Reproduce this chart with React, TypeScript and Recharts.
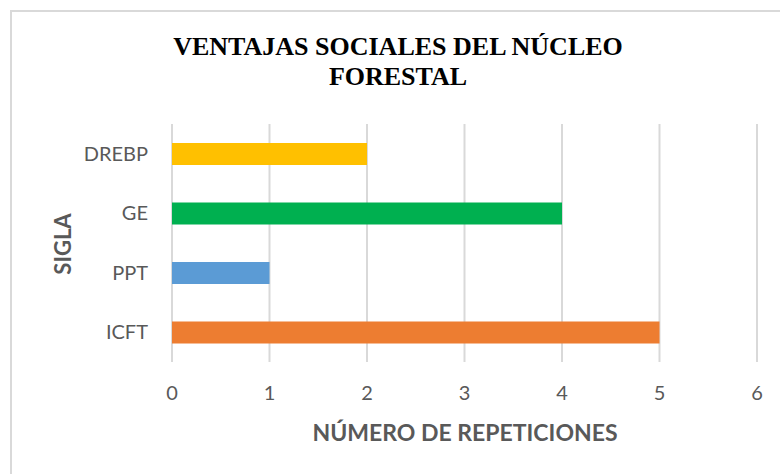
import { BarChart, Bar, XAxis, YAxis, CartesianGrid, Cell } from 'recharts'

const siglas = ['DREBP', 'GE', 'PPT', 'ICFT']
const repeticiones = [2, 4, 1, 5]
const barColors = ['#FFC000', '#00B050', '#5B9BD5', '#ED7D31']
const xTicks = [0, 1, 2, 3, 4, 5, 6]

const titleLines = ['VENTAJAS SOCIALES DEL NÚCLEO', 'FORESTAL']
const xTitle = 'NÚMERO DE REPETICIONES'
const yTitle = 'SIGLA'

const data = siglas.map((s, i) => ({ sigla: s, value: repeticiones[i] }))

const W = 780
const H = 474
const labelFont = 'Lato, "Noto Sans", sans-serif'
const gray = '#595959'

export default function App(): React.JSX.Element {
  return (
    <div
      style={{
        position: 'absolute',
        left: 0,
        top: 0,
        width: W,
        height: H,
        overflow: 'hidden',
        background: '#fff'
      }}
    >
      {/* outer chart frame, only top/left edges are in view */}
      <div
        style={{
          position: 'absolute',
          left: 10,
          top: 10,
          width: 820,
          height: 520,
          border: '2px solid #d9d9d9',
          boxSizing: 'border-box'
        }}
      />
      <div style={{ position: 'absolute', left: 0, top: 0 }}>
        <BarChart
          width={W}
          height={H}
          data={data}
          layout="vertical"
          margin={{ top: 124, right: 23, bottom: 0, left: 0 }}
        >
          <CartesianGrid horizontal={false} stroke="#d9d9d9" strokeWidth={2} />
          <XAxis
            type="number"
            domain={[0, 6]}
            ticks={xTicks}
            height={112}
            axisLine={false}
            tickLine={false}
            tickMargin={18}
            tick={{ fill: gray, fontSize: 20, fontFamily: labelFont }}
          />
          <YAxis
            type="category"
            dataKey="sigla"
            width={172}
            axisLine={false}
            tickLine={false}
            tickMargin={18}
            tick={{ fill: gray, fontSize: 20, fontFamily: labelFont }}
          />
          <Bar dataKey="value" barSize={22} isAnimationActive={false}>
            {data.map((d, i) => (
              <Cell key={d.sigla} fill={barColors[i]} />
            ))}
          </Bar>
        </BarChart>
      </div>
      <svg
        width={W}
        height={H}
        style={{ position: 'absolute', left: 0, top: 0, pointerEvents: 'none' }}
      >
        {titleLines.map((t, i) => (
          <text
            key={t}
            x={398}
            y={55 + i * 30}
            textAnchor="middle"
            fontFamily='"Liberation Serif", "Times New Roman", serif'
            fontWeight="bold"
            fontSize={26}
            fill="#000"
          >
            {t}
          </text>
        ))}
        <text
          x={465}
          y={441}
          textAnchor="middle"
          fontFamily={labelFont}
          fontWeight="bold"
          fontSize={23}
          fill={gray}
        >
          {xTitle}
        </text>
        <text
          transform="translate(71,244) rotate(-90)"
          textAnchor="middle"
          fontFamily={labelFont}
          fontWeight="bold"
          fontSize={22}
          fill={gray}
        >
          {yTitle}
        </text>
      </svg>
    </div>
  )
}
